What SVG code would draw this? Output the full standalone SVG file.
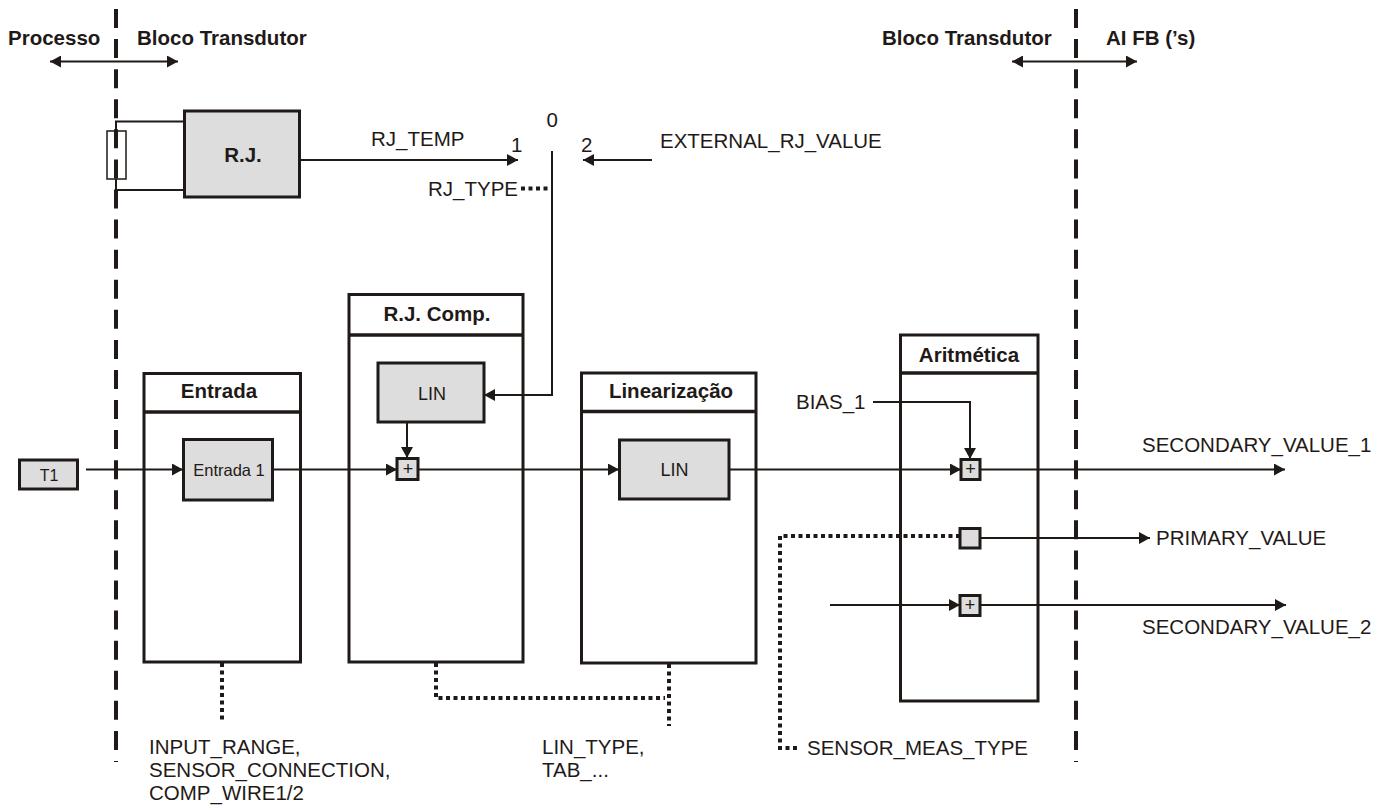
<svg xmlns="http://www.w3.org/2000/svg" width="1387" height="805" viewBox="0 0 1387 805">
<style>
text{font-family:"Liberation Sans",Arial,sans-serif;font-size:20.5px;fill:#1f1a17}
.b{font-weight:bold}
.m{text-anchor:middle}
.box{fill:#fff;stroke:#1f1a17;stroke-width:3}
.g{fill:#dcdddc;stroke:#1f1a17;stroke-width:3}
.h{fill:none;stroke:#1f1a17;stroke-width:3.5}
.l{fill:none;stroke:#1f1a17;stroke-width:2}
.a{marker-end:url(#ah)}
.s{marker-start:url(#as)}
.d{fill:none;stroke:#1f1a17;stroke-width:4;stroke-dasharray:4 3.500}
.dash{fill:none;stroke:#1f1a17;stroke-width:4;stroke-dasharray:19 11.080}
.lin{font-size:18px}
.p{font-size:18px}
</style>
<defs>
<marker id="ah" markerUnits="userSpaceOnUse" markerWidth="12" markerHeight="12" refX="11" refY="6" orient="auto"><path d="M0 0L11 6L0 12Z" fill="#1f1a17"/></marker>
<marker id="as" markerUnits="userSpaceOnUse" markerWidth="12" markerHeight="12" refX="0" refY="6" orient="auto"><path d="M11 0L0 6L11 12Z" fill="#1f1a17"/></marker>
</defs>
<rect width="1387" height="805" fill="#fff"/>
<g id="entrada"><rect class="box" x="144" y="373.500" width="156.500" height="288.500"/><path class="h" d="M144 412H300.500"/><text class="b m" x="219" y="398">Entrada</text></g>
<g id="rjcomp"><rect class="box" x="349" y="294.500" width="174" height="367.500"/><path class="h" d="M349 335H523"/><text class="b m" x="437" y="321">R.J. Comp.</text></g>
<g id="linearizacao"><rect class="box" x="581.500" y="373" width="174.500" height="290"/><path class="h" d="M581.500 411.500H756"/><text class="b m" x="671" y="398">Linearização</text></g>
<g id="aritmetica"><rect class="box" x="900.500" y="335" width="137.500" height="366"/><path class="h" d="M900.500 373H1038"/><text class="b m" x="969" y="362">Aritmética</text></g>
<g id="connectors">
<path class="dash" d="M116 9V762"/>
<path class="dash" d="M1076 9V762"/>
<path class="l a s" d="M50 61.500H178"/>
<path class="l a s" d="M1012 61.500H1137"/>
<path class="l" d="M184 121.500H116V131M116 179V190H184"/>
<path class="l a" d="M300 160H518"/>
<path class="l a" d="M652 160H583"/>
<path class="l a" d="M552 151V395H484"/>
<path class="d" d="M521 188.500H548"/>
<path class="l a" d="M86 469.500H183"/>
<path class="l a" d="M273 469.500H397"/>
<path class="l a" d="M407 422V458"/>
<path class="l a" d="M419 469.500H619"/>
<path class="l a" d="M729 469.500H961"/>
<path class="l a" d="M873 402H970V459"/>
<path class="l a" d="M980 469.500H1285"/>
<path class="l a" d="M980 538H1150"/>
<path class="l a" d="M830 605H960"/>
<path class="l a" d="M980 605H1286"/>
<path class="d" d="M960 536H780V748H800"/>
<path class="d" d="M222 663V722"/>
<path class="d" d="M436 663V698H665"/>
<path class="d" d="M669 664V726"/>
</g>
<g id="labels">
<text class="b" x="8" y="45">Processo</text>
<text class="b" x="137" y="45">Bloco Transdutor</text>
<text class="b" x="882" y="45">Bloco Transdutor</text>
<text class="b" x="1106" y="45">AI FB (’s)</text>
<text x="371" y="146">RJ_TEMP</text>
<text x="511" y="152">1</text>
<text x="546.500" y="127">0</text>
<text x="581" y="152">2</text>
<text x="660" y="148">EXTERNAL_RJ_VALUE</text>
<text x="428" y="196">RJ_TYPE</text>
<text x="796" y="409">BIAS_1</text>
<text x="1142" y="452">SECONDARY_VALUE_1</text>
<text x="1156" y="545">PRIMARY_VALUE</text>
<text x="1142" y="634">SECONDARY_VALUE_2</text>
<text x="149" y="754">INPUT_RANGE,</text>
<text x="149" y="777">SENSOR_CONNECTION,</text>
<text x="149" y="800">COMP_WIRE1/2</text>
<text x="542" y="754">LIN_TYPE,</text>
<text x="542" y="777">TAB_...</text>
<text x="807" y="755">SENSOR_MEAS_TYPE</text>
</g>
<g id="rj"><rect class="g" x="184.500" y="111" width="115" height="86"/><text class="b m" x="243" y="162">R.J.</text></g>
<g id="sensor"><rect x="107" y="131" width="19" height="48" fill="none" stroke="#1f1a17" stroke-width="1.500"/></g>
<g id="t1"><rect class="g" x="19.500" y="460" width="58" height="29"/><text class="m" x="49" y="481" style="font-size:16px">T1</text></g>
<g id="entrada1"><rect class="g" x="183.500" y="439.500" width="89" height="60.500"/><text class="m" x="229" y="476" style="font-size:16.500px">Entrada 1</text></g>
<g id="lin1"><rect class="g" x="378" y="363" width="106" height="59"/><text class="m lin" x="432" y="400">LIN</text></g>
<g id="lin2"><rect class="g" x="619.500" y="440" width="109.500" height="59"/><text class="m lin" x="674.500" y="476">LIN</text></g>
<g id="sum1"><rect class="g" x="397" y="458.500" width="21" height="21"/><text class="m p" x="408" y="475">+</text></g>
<g id="sum2"><rect class="g" x="961" y="459.500" width="19" height="20"/><text class="m p" x="970.500" y="475">+</text></g>
<g id="pv"><rect class="g" x="960" y="528.500" width="20" height="19.500"/></g>
<g id="sum3"><rect class="g" x="960" y="595.500" width="20" height="20"/><text class="m p" x="970" y="611">+</text></g>
</svg>
